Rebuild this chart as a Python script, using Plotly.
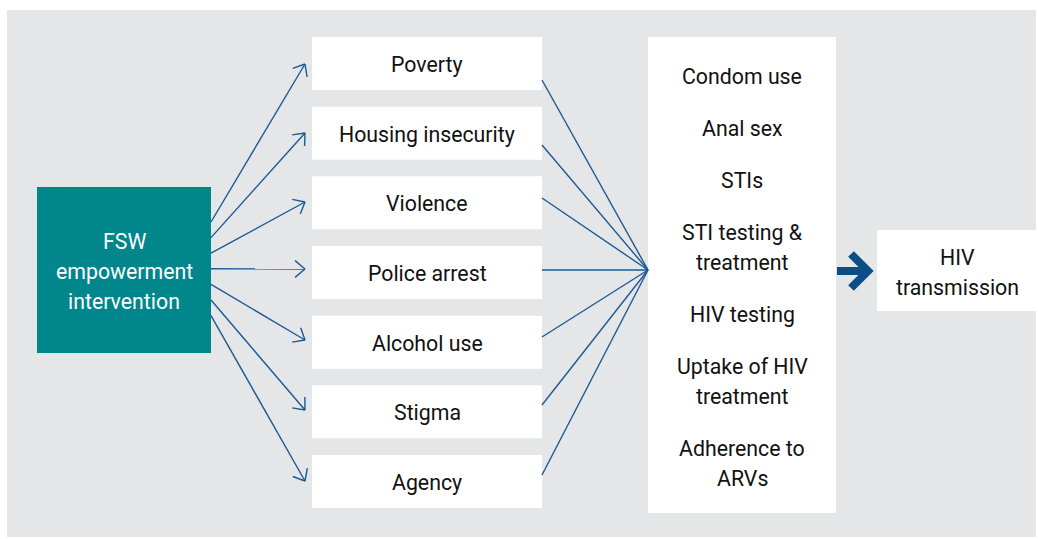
import numpy as np
import plotly.graph_objects as go

# ---- diagram content ----
source_label = "FSW<br>empowerment<br>intervention"
mediators = [
    "Poverty",
    "Housing insecurity",
    "Violence",
    "Police arrest",
    "Alcohol use",
    "Stigma",
    "Agency",
]
outcomes = [
    "Condom use",
    "Anal sex",
    "STIs",
    "STI testing &<br>treatment",
    "HIV testing",
    "Uptake of HIV<br>treatment",
    "Adherence to<br>ARVs",
]
final_label = "HIV<br>transmission"

# ---- layout (pixels, y downwards) ----
W, H = 1038, 539
GRAY = "#E5E6E8"
TEAL = "#00868B"
LINE = "#1B5A94"
DARK = "#0D4C86"
FONT = "Roboto"
FS = 21.3

panel = (7, 10, 1036, 537)
src_box = (37, 187, 211, 353)
mid_x0, mid_x1 = 312, 542
mid_top, mid_step, mid_h = 37, 69.67, 53
out_box = (648, 37, 836, 513)
fin_box = (877, 230, 1037, 311)

fan_start_y = 222 + np.arange(len(mediators)) * 15.6
fan_tip_y = [64, 133, 202, 269, 340, 410, 481]
tip_x = 305
join_start_y = [80, 145, 198, 270, 337, 405, 475]
join_pt = (648, 270)

fig = go.Figure()
shapes = []


def rect(b, color):
    return dict(type="rect", x0=b[0], y0=b[1], x1=b[2], y1=b[3], xref="x", yref="y",
                fillcolor=color, line=dict(width=0), layer="below")


shapes.append(rect(panel, GRAY))
shapes.append(rect(src_box, TEAL))
for i in range(len(mediators)):
    t = mid_top + i * mid_step
    shapes.append(rect((mid_x0, t, mid_x1, t + mid_h), "white"))
shapes.append(rect(out_box, "white"))
shapes.append(rect(fin_box, "white"))

# fan of arrows from the intervention box
xs, ys = [], []
for y0, y1 in zip(fan_start_y, fan_tip_y):
    xs += [src_box[2], tip_x, None]
    ys += [y0, y1, None]
    ang = np.arctan2(y1 - y0, tip_x - src_box[2])
    for s in (1, -1):
        a = ang + np.pi - s * np.radians(40)
        xs += [tip_x, tip_x + 13 * np.cos(a), None]
        ys += [y1, y1 + 13 * np.sin(a), None]
# lines converging into the outcomes box
for y0 in join_start_y:
    xs += [mid_x1, join_pt[0], None]
    ys += [y0, join_pt[1], None]
fig.add_trace(go.Scatter(x=xs, y=ys, mode="lines", line=dict(color=LINE, width=1.4),
                         hoverinfo="skip"))

# bold arrow to HIV transmission
fig.add_trace(go.Scatter(x=[837, 868, None, 851, 868, 851], y=[271, 271, None, 254, 271, 288],
                         mode="lines", line=dict(color=DARK, width=8), hoverinfo="skip"))

ann = []


def label(x, y, text, color="#111111", size=FS):
    # split into lines so the line spacing matches (30 px)
    parts = text.split("<br>")
    n = len(parts)
    for k, p in enumerate(parts):
        ann.append(dict(x=x, y=y + (k - (n - 1) / 2) * 30, text=p, showarrow=False,
                        xref="x", yref="y", xanchor="center", yanchor="middle",
                        font=dict(family=FONT, size=size, color=color)))


label((src_box[0] + src_box[2]) / 2, 271, source_label, color="white")
for i, m in enumerate(mediators):
    label((mid_x0 + mid_x1) / 2, mid_top + i * mid_step + mid_h / 2 + 1, m)

cx = (out_box[0] + out_box[2]) / 2
y = 76
for o in outcomes:
    n = len(o.split("<br>"))
    label(cx, y + (n - 1) * 15, o)
    y += (n - 1) * 30 + 52

label((fin_box[0] + fin_box[2]) / 2, 272, final_label)

fig.update_layout(
    width=W, height=H,
    margin=dict(l=0, r=0, t=0, b=0),
    paper_bgcolor="white", plot_bgcolor="white",
    showlegend=False,
    shapes=shapes,
    annotations=ann,
    xaxis=dict(range=[0, W], visible=False, fixedrange=True),
    yaxis=dict(range=[H, 0], visible=False, fixedrange=True),
)

fig.write_html(
    "out.html",
    config={"displayModeBar": False},
    post_script="document.body.style.margin='0';document.body.style.overflow='hidden';",
)
